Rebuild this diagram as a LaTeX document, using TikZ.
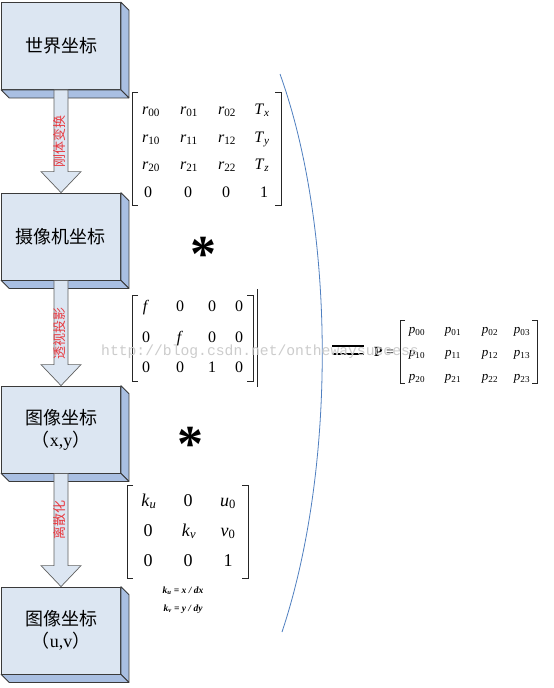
\documentclass[tikz,border=0pt]{standalone}
\usepackage{fontspec}
\setmainfont{Liberation Serif}
\newfontfamily\cjk{Noto Sans CJK SC}
\newfontfamily\wmfont{Liberation Mono}
\usetikzlibrary{calc}
\definecolor{boxfront}{HTML}{DCE6F2}
\definecolor{boxside}{HTML}{A9BFE2}
\definecolor{boxedge}{HTML}{3A3A3A}
\definecolor{arcblue}{HTML}{4F7FC0}
\definecolor{lblred}{HTML}{E8383D}
\newcommand\myr[1]{\textit{r}\textsubscript{#1}}
\newcommand\myT[1]{\textit{T}\textsubscript{\textit{#1}}}
\newcommand\myp[1]{\textit{p}\textsubscript{#1}}
\tikzset{
  box/.style={draw=boxedge, fill=boxfront, line width=0.8pt, minimum width=119pt,
    minimum height=87pt, inner sep=0pt, align=center, font=\cjk\fontsize{18}{24}\selectfont},
  face/.style={draw=boxedge, fill=boxside, line width=0.8pt, line join=round},
  bigarrow/.style={draw=boxedge!80, fill=boxfront, line width=0.7pt, line join=miter},
  lbl/.style={rotate=90, text=lblred, inner sep=0pt, font=\cjk\fontsize{13}{13}\selectfont},
  entA/.style={inner sep=0pt, text height=11pt, text depth=3pt, font=\fontsize{16}{16}\selectfont},
  entC/.style={inner sep=0pt, text height=12pt, text depth=3.5pt, font=\fontsize{18}{18}\selectfont},
  entP/.style={inner sep=0pt, text height=9pt, text depth=2.5pt, font=\fontsize{13}{13}\selectfont},
  brk/.style={line width=0.8pt, draw=black!85},
  star/.style={inner sep=0pt, font=\bfseries\fontsize{52}{52}\selectfont},
  arcline/.style={draw=arcblue, line width=0.8pt},
  wm/.style={inner sep=0pt, text=black!20, font=\wmfont\fontsize{14.7}{15}\selectfont, anchor=west}
}
\begin{document}
\begin{tikzpicture}[x=1pt,y=-1pt]
\useasboundingbox[fill=white] (0,0) rectangle (554,688);

% boxes
\node[box] (b1) at (61,46) {世界坐标};
\node[box] (b2) at (61,236.5) {摄像机坐标};
\node[box] (b3) at (61,429.5) {图像坐标\\[-2pt]（{\rmfamily x,y}）};
\node[box] (b4) at (61,630.5) {图像坐标\\[-2pt]（{\rmfamily u,v}）};
\foreach \b in {b1,b2,b3,b4}{
  \draw[face] (\b.north east) -- ++(8,8) -- ($(\b.south east)+(8,8)$) -- (\b.south east) -- cycle;
  \draw[face] (\b.south west) -- ++(8,8) -- ($(\b.south east)+(8,8)$) -- (\b.south east) -- cycle;
}

% arrows
\foreach \a/\b in {b1/b2,b2/b3,b3/b4}{
  \draw[bigarrow] ($(\a.south)+(-7,0)$) -- ($(\b.north)+(-7,-21)$) -- ($(\b.north)+(-20,-21)$)
    -- (\b.north) -- ($(\b.north)+(20,-21)$) -- ($(\b.north)+(7,-21)$) -- ($(\a.south)+(7,0)$) -- cycle;
}
\node[lbl] (l1) at (60,141) {刚体变换};
\node[lbl] (l2) at (60,333) {透视投影};
\node[lbl] (l3) at (60,520) {离散化};

% matrix 1
\draw[brk] (138,92) -- (132,92) -- (132,205) -- (138,205);
\draw[brk] (275,92) -- (281,92) -- (281,205) -- (275,205);
\node[entA] (m11) at (151,110) {\myr{00}};
\node[entA] (m12) at (189,110) {\myr{01}};
\node[entA] (m13) at (227,110) {\myr{02}};
\node[entA] (m14) at (262,110) {\myT{x}};
\node[entA] (m21) at (151,138) {\myr{10}};
\node[entA] (m22) at (189,138) {\myr{11}};
\node[entA] (m23) at (227,138) {\myr{12}};
\node[entA] (m24) at (262,138) {\myT{y}};
\node[entA] (m31) at (151,165) {\myr{20}};
\node[entA] (m32) at (189,165) {\myr{21}};
\node[entA] (m33) at (227,165) {\myr{22}};
\node[entA] (m34) at (262,165) {\myT{z}};
\node[entA] (m41) at (148,193) {0};
\node[entA] (m42) at (188,193) {0};
\node[entA] (m43) at (226,193) {0};
\node[entA] (m44) at (264,193) {1};

% star 1
\node[star] (s1) at (203,254) {*};

% matrix 2
\draw[brk] (138,295) -- (132,295) -- (132,381) -- (138,381);
\draw[brk] (247,295) -- (253,295) -- (253,381) -- (247,381);
\draw[brk] (257,289) -- (257,387);
\node[entA] (n11) at (146,307) {\textit{f}};
\node[entA] (n12) at (180,307) {0};
\node[entA] (n13) at (212,307) {0};
\node[entA] (n14) at (239,307) {0};
\node[entA] (n21) at (146,338) {0};
\node[entA] (n22) at (180,338) {\textit{f}};
\node[entA] (n23) at (212,338) {0};
\node[entA] (n24) at (239,338) {0};
\node[entA] (n31) at (146,368) {0};
\node[entA] (n32) at (180,368) {0};
\node[entA] (n33) at (212,368) {1};
\node[entA] (n34) at (239,368) {0};

% star 2
\node[star] (s2) at (190,444) {*};

% matrix 3
\draw[brk] (133,485) -- (127,485) -- (127,578) -- (133,578);
\draw[brk] (242,485) -- (248,485) -- (248,578) -- (242,578);
\node[entC] (k11) at (149,502) {\textit{k}\textsubscript{\textit{u}}};
\node[entC] (k12) at (188,502) {0};
\node[entC] (k13) at (228,502) {\textit{u}\textsubscript{0}};
\node[entC] (k21) at (148,532) {0};
\node[entC] (k22) at (189,532) {\textit{k}\textsubscript{\textit{v}}};
\node[entC] (k23) at (228,532) {\textit{v}\textsubscript{0}};
\node[entC] (k31) at (148,562) {0};
\node[entC] (k32) at (188,562) {0};
\node[entC] (k33) at (228,562) {1};
\node[inner sep=0pt, font=\bfseries\itshape\fontsize{9.5}{10}\selectfont] (ku) at (183,591) {k\textsubscript{u} = x / dx};
\node[inner sep=0pt, font=\bfseries\itshape\fontsize{9.5}{10}\selectfont] (kv) at (183,609) {k\textsubscript{v} = y / dy};

% arc
\draw[arcline] (280,74) .. controls (336,230) and (336,470) .. (282,632);

% equals and P
\draw[line width=2pt] (332,346) -- (364,346);
\draw[line width=2pt] (332,354) -- (364,354);
\node[inner sep=0pt, font=\fontsize{14}{14}\selectfont] (peq) at (384,352) {\textbf{P} =};
\draw[brk, line width=0.7pt] (405,320) -- (400,320) -- (400,383) -- (405,383);
\draw[brk, line width=0.7pt] (532,320) -- (537,320) -- (537,383) -- (532,383);
\node[entP] (p11) at (417,330) {\myp{00}};
\node[entP] (p12) at (453,330) {\myp{01}};
\node[entP] (p13) at (490,330) {\myp{02}};
\node[entP] (p14) at (522,330) {\myp{03}};
\node[entP] (p21) at (417,353) {\myp{10}};
\node[entP] (p22) at (453,353) {\myp{11}};
\node[entP] (p23) at (490,353) {\myp{12}};
\node[entP] (p24) at (522,353) {\myp{13}};
\node[entP] (p31) at (417,377) {\myp{20}};
\node[entP] (p32) at (453,377) {\myp{21}};
\node[entP] (p33) at (490,377) {\myp{22}};
\node[entP] (p34) at (522,377) {\myp{23}};

% watermark
\node[wm] (wmk) at (101,352) {http://blog.csdn.net/onthewaysuccess};
\end{tikzpicture}
\end{document}
